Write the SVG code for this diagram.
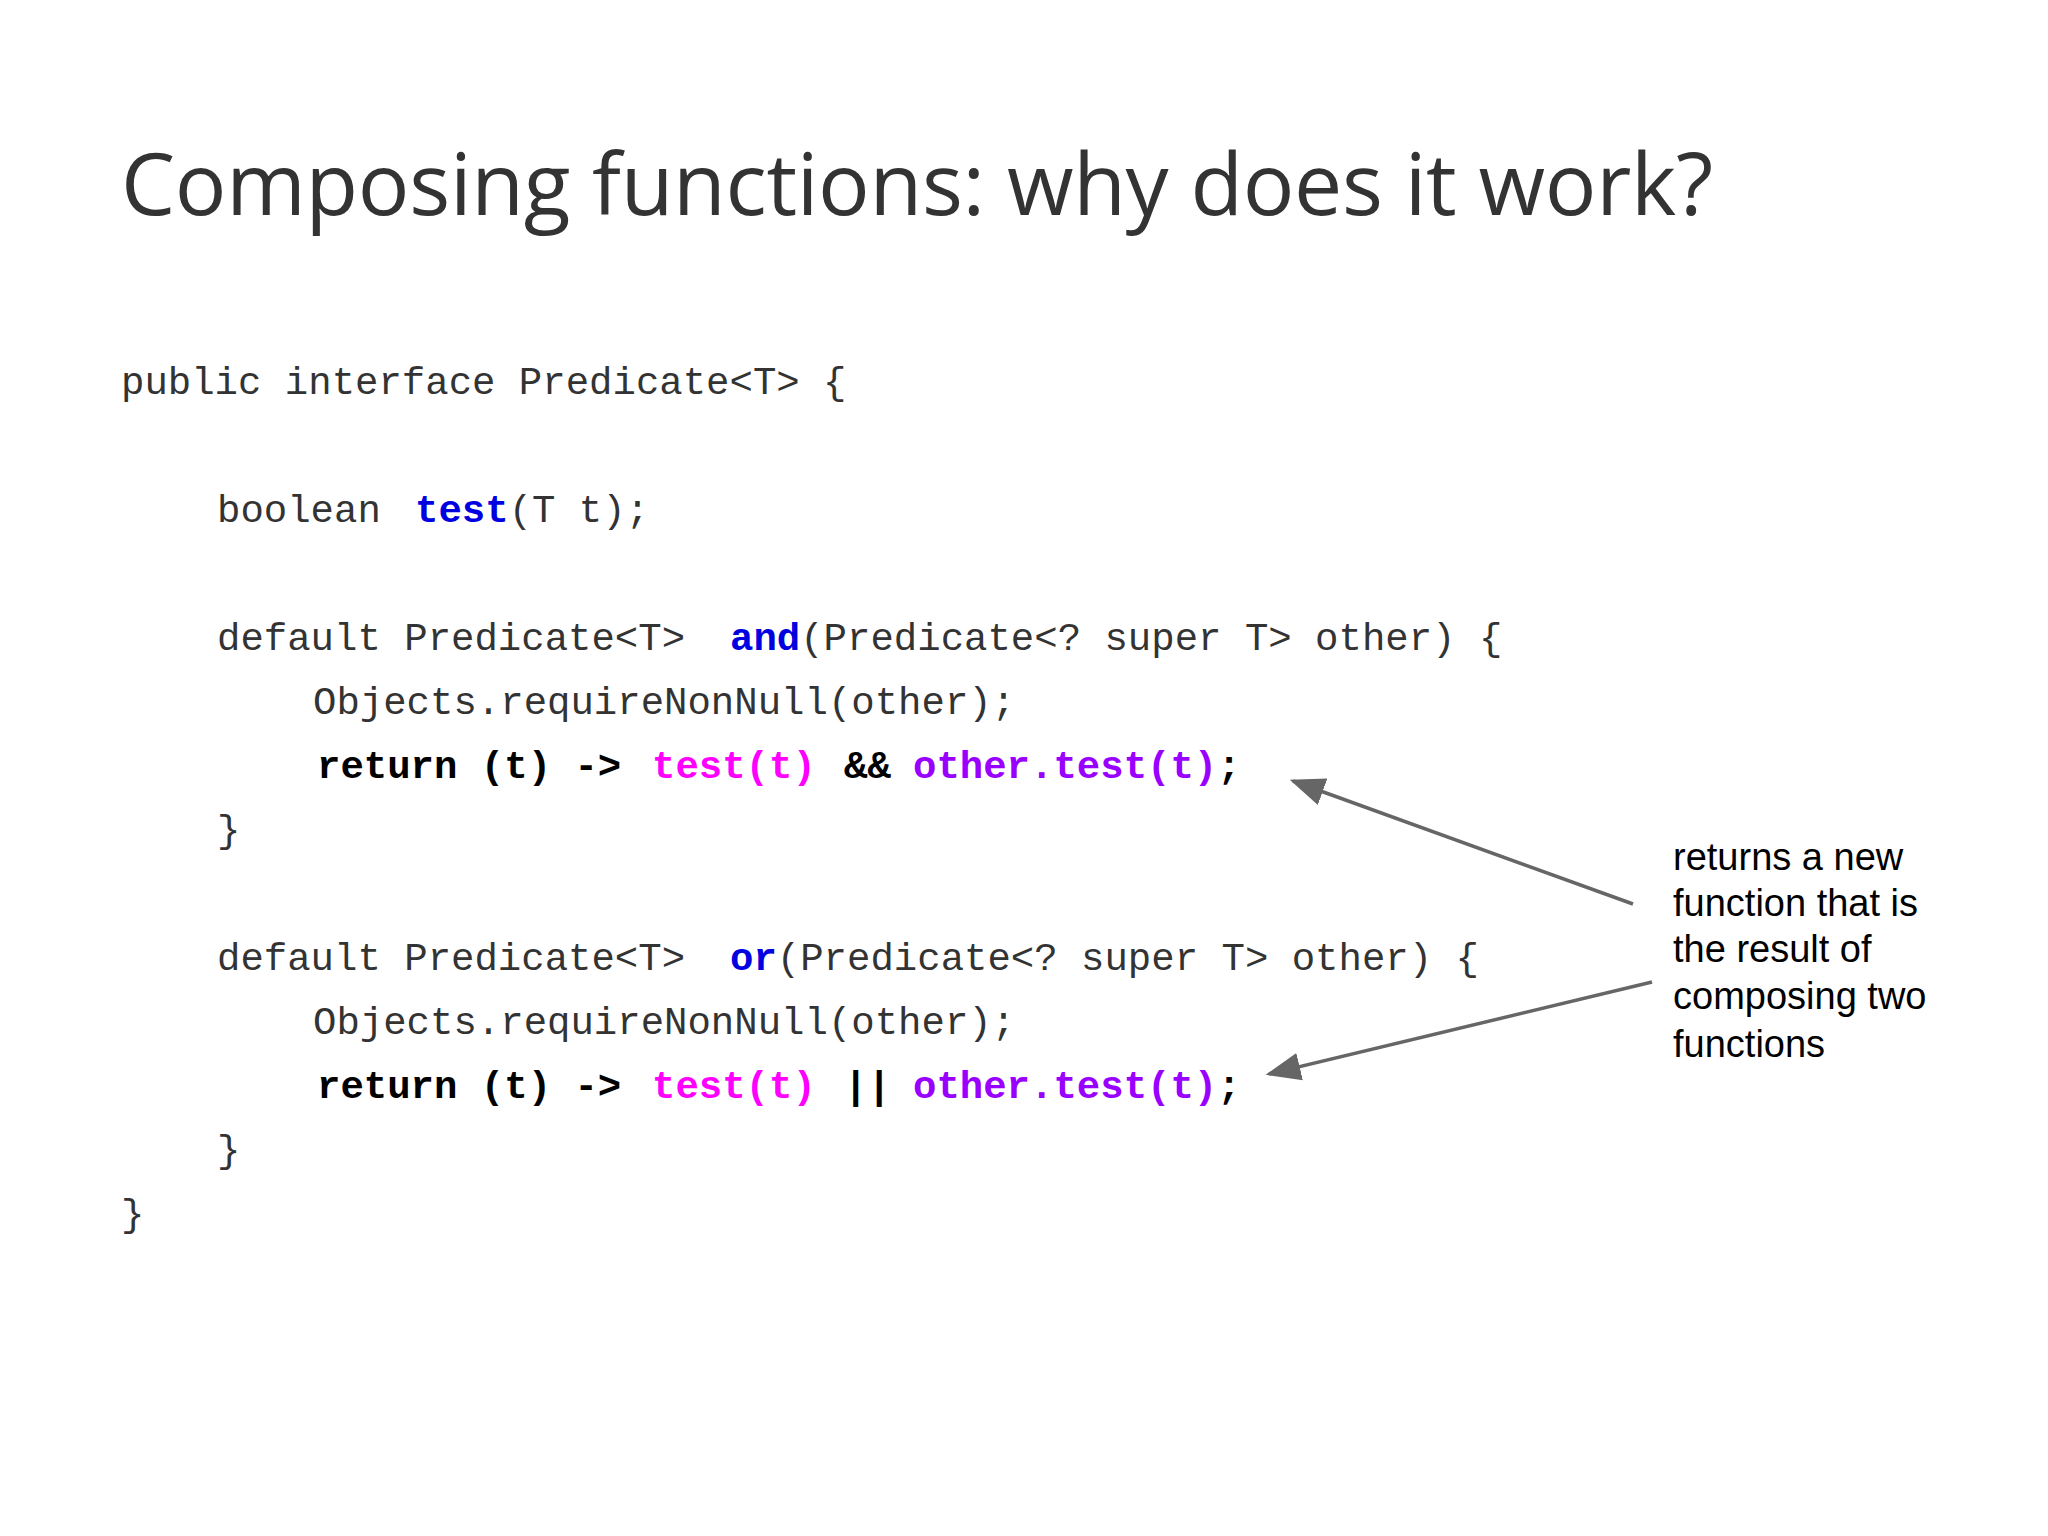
<svg xmlns="http://www.w3.org/2000/svg" width="2048" height="1536" viewBox="0 0 2048 1536">
<defs>
<style>
.c{font-family:"Liberation Mono","Courier New",monospace;font-size:39px;fill:#333}
.b{font-weight:bold}
.kw{fill:#0000e0;font-weight:bold}
.pk{fill:#ff00ff;font-weight:bold}
.pu{fill:#9900ff;font-weight:bold}
.k{fill:#000;font-weight:bold}
.n{font-family:"Liberation Sans",Arial,sans-serif;font-size:38px;fill:#000}
</style>
<marker id="ah" viewBox="0 0 10 10" refX="9" refY="5" markerWidth="8" markerHeight="8" orient="auto" markerUnits="userSpaceOnUse">
<path d="M0,0 L10,5 L0,10 z" fill="#666"/>
</marker>
<marker id="a" viewBox="0 0 10 10" refX="9" refY="5" markerWidth="10" markerHeight="10" orient="auto">
<path d="M0,1 L10,5 L0,9 z" fill="#666"/>
</marker>
</defs>
<rect width="2048" height="1536" fill="#fff"/>
<text x="121" y="215" font-family="'Open Sans',sans-serif" font-size="86" fill="#333" textLength="1592">Composing functions: why does it work?</text>
<g id="code">
<text class="c" x="121" y="394" xml:space="preserve">public interface Predicate&lt;T&gt; {</text>
<text class="c" x="217" y="522" xml:space="preserve">boolean <tspan class="kw" x="415">test</tspan><tspan>(T t);</tspan></text>
<text class="c" x="217" y="650" xml:space="preserve">default Predicate&lt;T&gt;<tspan class="kw" x="730">and</tspan><tspan>(Predicate&lt;? super T&gt; other) {</tspan></text>
<text class="c" x="313" y="714" xml:space="preserve">Objects.requireNonNull(other);</text>
<text class="c k" x="317" y="778" xml:space="preserve">return (t) -&gt;<tspan class="pk" x="652">test(t)</tspan><tspan class="k" x="844">&amp;&amp;</tspan><tspan class="pu" x="913">other.test(t)</tspan><tspan class="k">;</tspan></text>
<text class="c" x="217" y="842">}</text>
<text class="c" x="217" y="970" xml:space="preserve">default Predicate&lt;T&gt;<tspan class="kw" x="730">or</tspan><tspan>(Predicate&lt;? super T&gt; other) {</tspan></text>
<text class="c" x="313" y="1034" xml:space="preserve">Objects.requireNonNull(other);</text>
<text class="c k" x="317" y="1098" xml:space="preserve">return (t) -&gt;<tspan class="pk" x="652">test(t)</tspan><tspan class="k" x="844">||</tspan><tspan class="pu" x="913">other.test(t)</tspan><tspan class="k">;</tspan></text>
<text class="c" x="217" y="1162">}</text>
<text class="c" x="121" y="1226">}</text>
</g>
<g id="note">
<text class="n" x="1673" y="870">returns a new</text>
<text class="n" x="1673" y="916">function that is</text>
<text class="n" x="1673" y="962">the result of</text>
<text class="n" x="1673" y="1009">composing two</text>
<text class="n" x="1673" y="1057">functions</text>
</g>
<g id="connectors" stroke="#666" stroke-width="3.5" fill="none">
<line x1="1633" y1="904" x2="1293" y2="781" marker-end="url(#a)"/>
<line x1="1652" y1="982" x2="1269" y2="1074" marker-end="url(#a)"/>
</g>
</svg>
